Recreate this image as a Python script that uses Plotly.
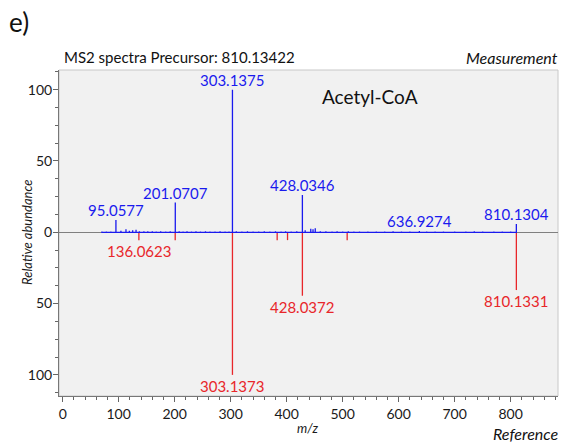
import plotly.graph_objects as go

# Measurement (up, blue) peaks: m/z and relative abundance (%)
meas_mz = [70, 78, 86, 95.0577, 104, 113, 119, 125, 131, 137, 145, 152, 160, 167, 175, 184, 192,
           201.0707, 208, 215, 222, 230, 238, 246, 255, 263, 272, 281, 290, 297, 303.1375,
           310, 320, 330, 340, 350, 360, 370, 380, 390, 398, 408, 418, 428.0346, 433, 443, 447,
           451, 460, 470, 481, 490, 500, 510, 520, 530, 545, 560, 575, 590, 605, 620, 636.9274,
           650, 665, 680, 700, 720, 735, 750, 770, 785, 800, 810.1304]
meas_int = [0.5, 0.6, 0.6, 8.6, 1.0, 2.2, 1.0, 1.5, 1.8, 0.8, 0.7, 0.8, 0.7, 0.6, 0.8, 0.6, 0.7,
            20.8, 0.8, 0.6, 0.7, 0.6, 0.7, 0.6, 0.7, 0.6, 0.6, 0.7, 0.6, 0.6, 100,
            0.8, 0.6, 0.7, 0.6, 0.6, 0.7, 0.6, 0.7, 0.6, 0.7, 0.6, 0.7, 26.2, 1.5, 2.5, 2.2,
            2.8, 0.8, 0.7, 0.6, 0.7, 0.6, 0.7, 0.6, 0.6, 0.6, 0.6, 0.6, 0.7, 0.6, 0.6, 0.9,
            0.6, 0.6, 0.6, 0.6, 0.6, 0.7, 0.6, 0.6, 0.6, 0.6, 5.8]

# Reference (down, red) peaks
ref_mz = [136.0623, 200.9, 303.1373, 383.0, 401.5, 428.0372, 508.0, 810.1331]
ref_int = [5.5, 5.5, 100, 5.5, 5.5, 44.5, 5.5, 40.5]

meas_labels = [95.0577, 201.0707, 303.1375, 428.0346, 636.9274, 810.1304]
ref_labels = [136.0623, 303.1373, 428.0372, 810.1331]

x_ticks = [0, 100, 200, 300, 400, 500, 600, 700, 800]
y_ticks = [-100, -50, 0, 50, 100]
y_ticktext = ["100", "50", "0", "50", "100"]

BLUE = "#1a1aee"
RED = "#e8262a"
FONT = "Lato"
TXT = "#1a1a1a"

# Build stem traces
bx, by = [], []
for m, h in sorted(zip(meas_mz, meas_int)):
    bx += [m, m, m]
    by += [0, h, 0]
rx, ry = [], []
for m, h in zip(ref_mz, ref_int):
    rx += [m, m, None]
    ry += [0, -h, None]

fig = go.Figure()
fig.add_trace(go.Scatter(x=rx, y=ry, mode="lines", line=dict(color=RED, width=1.3),
                         hoverinfo="skip", showlegend=False))
fig.add_trace(go.Scatter(x=bx, y=by, mode="lines", line=dict(color=BLUE, width=1.3),
                         hoverinfo="skip", showlegend=False))

ann = []
lookup_m = dict(zip(meas_mz, meas_int))
for m in meas_labels:
    ann.append(dict(x=m, y=lookup_m[m], xref="x", yref="y", text=f"{m:.4f}", showarrow=False,
                    yanchor="middle", yshift=10, font=dict(family=FONT, size=15, color=BLUE)))
lookup_r = dict(zip(ref_mz, ref_int))
for m in ref_labels:
    ann.append(dict(x=m, y=-lookup_r[m], xref="x", yref="y", text=f"{m:.4f}", showarrow=False,
                    yanchor="middle", yshift=-11, font=dict(family=FONT, size=15, color=RED)))

W, H = 562, 442
ml, mr, mt, mb = 59, 4, 70, 46
pw, ph = W - ml - mr, H - mt - mb

def px(xp):
    return (xp - ml) / pw

def py(yp):
    return (H - mb - yp) / ph

ann += [
    dict(x=px(7), y=py(22), xref="paper", yref="paper", text="e)", showarrow=False,
         xanchor="left", yanchor="middle", font=dict(family=FONT, size=26, color="#111")),
    dict(x=px(62), y=py(57), xref="paper", yref="paper", text="MS2 spectra Precursor: 810.13422",
         showarrow=False, xanchor="left", yanchor="middle", font=dict(family=FONT, size=15, color="#111")),
    dict(x=px(560), y=py(57), xref="paper", yref="paper", text="<i>Measurement</i>",
         showarrow=False, xanchor="right", yanchor="middle", font=dict(family=FONT, size=16, color="#111")),
    dict(x=px(560), y=py(433), xref="paper", yref="paper", text="<i>Reference</i>",
         showarrow=False, xanchor="right", yanchor="middle", font=dict(family=FONT, size=16, color="#111")),
    dict(x=px(370), y=py(97), xref="paper", yref="paper", text="Acetyl-CoA",
         showarrow=False, xanchor="center", yanchor="middle", font=dict(family=FONT, size=19, color="#111")),
    dict(x=px(27), y=py(233), xref="paper", yref="paper", text="<i>Relative abundance</i>",
         showarrow=False, textangle=-90, xanchor="center", yanchor="middle",
         font=dict(family=FONT, size=13, color=TXT)),
    dict(x=px(308), y=py(428), xref="paper", yref="paper", text="<i>m/z</i>",
         showarrow=False, xanchor="center", yanchor="middle",
         font=dict(family=FONT, size=13, color=TXT)),
]

fig.update_layout(
    width=W, height=H,
    margin=dict(l=ml, r=mr, t=mt, b=mb, pad=0),
    paper_bgcolor="white", plot_bgcolor="#f1f1f1",
    font=dict(family=FONT, size=13, color=TXT),
    annotations=ann,
    shapes=[dict(type="rect", xref="paper", yref="paper", x0=0, x1=1, y0=0, y1=1,
                 line=dict(color="#c8c8c8", width=1), layer="below")],
    xaxis=dict(range=[-6.6, 884.5], tickvals=x_ticks, ticks="outside", ticklen=5,
               tickcolor="#666", showline=True, linecolor="#777", linewidth=1,
               showgrid=False, zeroline=False,
               minor=dict(dtick=20, ticks="outside", ticklen=3, tickcolor="#666", showgrid=False),
               tickfont=dict(family=FONT, size=14, color=TXT)),
    yaxis=dict(range=[-114.8, 113.8], tickvals=y_ticks, ticktext=y_ticktext, ticks="outside",
               ticklen=5, tickcolor="#666", showline=True, linecolor="#777", linewidth=1,
               showgrid=False, zeroline=True, zerolinecolor="#808080", zerolinewidth=1,
               ticklabelstandoff=-2,
               minor=dict(dtick=12.5, tick0=0, ticks="outside", ticklen=3, tickcolor="#666", showgrid=False),
               tickfont=dict(family=FONT, size=14, color=TXT)),
)

fig.write_html("out.html")
